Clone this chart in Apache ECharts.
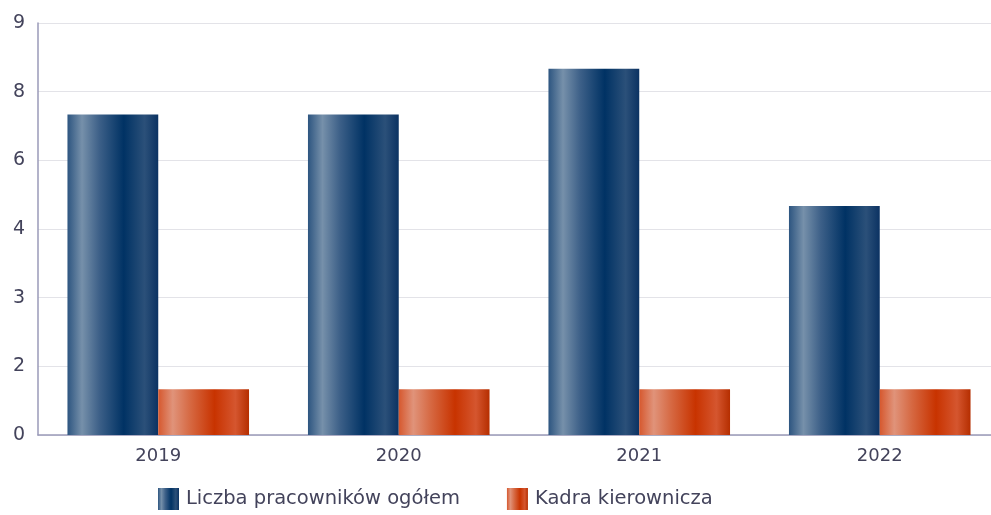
<!DOCTYPE html>
<html>
<head>
<meta charset="utf-8">
<script src="https://cdn.jsdelivr.net/npm/echarts@6/dist/echarts.min.js"></script>
<style>
  html, body { margin: 0; padding: 0; background: #fff; }
  #chart { width: 991px; height: 515px; }
</style>
</head>
<body>
<div id="chart"></div>
<script>
// Years on the category axis
var years = ['2019', '2020', '2021', '2022'];
// Series names (legend)
var seriesNames = ['Liczba pracowników ogółem', 'Kadra kierownicza'];
// Values per year
var totalStaff = [7, 7, 8, 5];
var management = [1, 1, 1, 1];

// Value axis range
var axisMax = 9;
var axisStep = 1.5;

// Round half to even, as the tick labels are displayed without decimals
function roundHalfEven(v) {
  var f = Math.floor(v);
  var d = v - f;
  if (Math.abs(d - 0.5) < 1e-9) return (f % 2 === 0) ? f : f + 1;
  return Math.round(v);
}

function barGradient(stops) {
  return new echarts.graphic.LinearGradient(0, 0, 1, 0, stops.map(function (s) {
    return { offset: s[0], color: s[1] };
  }));
}

var blueFill = barGradient([
  [0, '#2d5580'], [0.16, '#7690aa'], [0.35, '#3d6088'],
  [0.62, '#003264'], [0.85, '#2b5079'], [1, '#0b3262']
]);
var orangeFill = barGradient([
  [0, '#d6582e'], [0.16, '#e0937a'], [0.35, '#d66943'],
  [0.62, '#c83300'], [0.85, '#d5562f'], [1, '#b52e00']
]);

var font = 'DejaVu Sans';
var textColor = '#43435b';

var chart = echarts.init(document.getElementById('chart'));
chart.setOption({
  animation: false,
  textStyle: { fontFamily: font },
  // plot area runs a little past the right edge of the canvas
  grid: { left: 38, top: 23, width: 962, bottom: 80, outerBoundsMode: 'none', containLabel: false },
  legend: {
    bottom: 0,
    left: 153,
    icon: 'rect',
    itemWidth: 21,
    itemHeight: 22,
    itemGap: 47,
    textStyle: { fontSize: 19.5, color: textColor, fontFamily: font, padding: [0, 0, 0, 2] },
    data: seriesNames
  },
  xAxis: {
    type: 'category',
    data: years,
    axisTick: { show: false },
    axisLine: { lineStyle: { color: '#9a9ab8', width: 1.5 } },
    axisLabel: { fontSize: 18, color: textColor, margin: 12 }
  },
  yAxis: {
    type: 'value',
    min: 0,
    max: axisMax,
    interval: axisStep,
    axisLine: { show: true, lineStyle: { color: '#9a9ab8', width: 1.5 } },
    axisTick: { show: false },
    splitLine: { lineStyle: { color: '#e3e3e8' } },
    axisLabel: {
      fontSize: 19, color: textColor, margin: 13,
      formatter: function (v) { return String(roundHalfEven(v)); }
    }
  },
  series: [
    {
      name: seriesNames[0],
      type: 'bar',
      data: totalStaff,
      barGap: '0%',
      barCategoryGap: '24.5%',
      itemStyle: { color: blueFill }
    },
    {
      name: seriesNames[1],
      type: 'bar',
      data: management,
      itemStyle: { color: orangeFill }
    }
  ]
});
</script>
</body>
</html>
